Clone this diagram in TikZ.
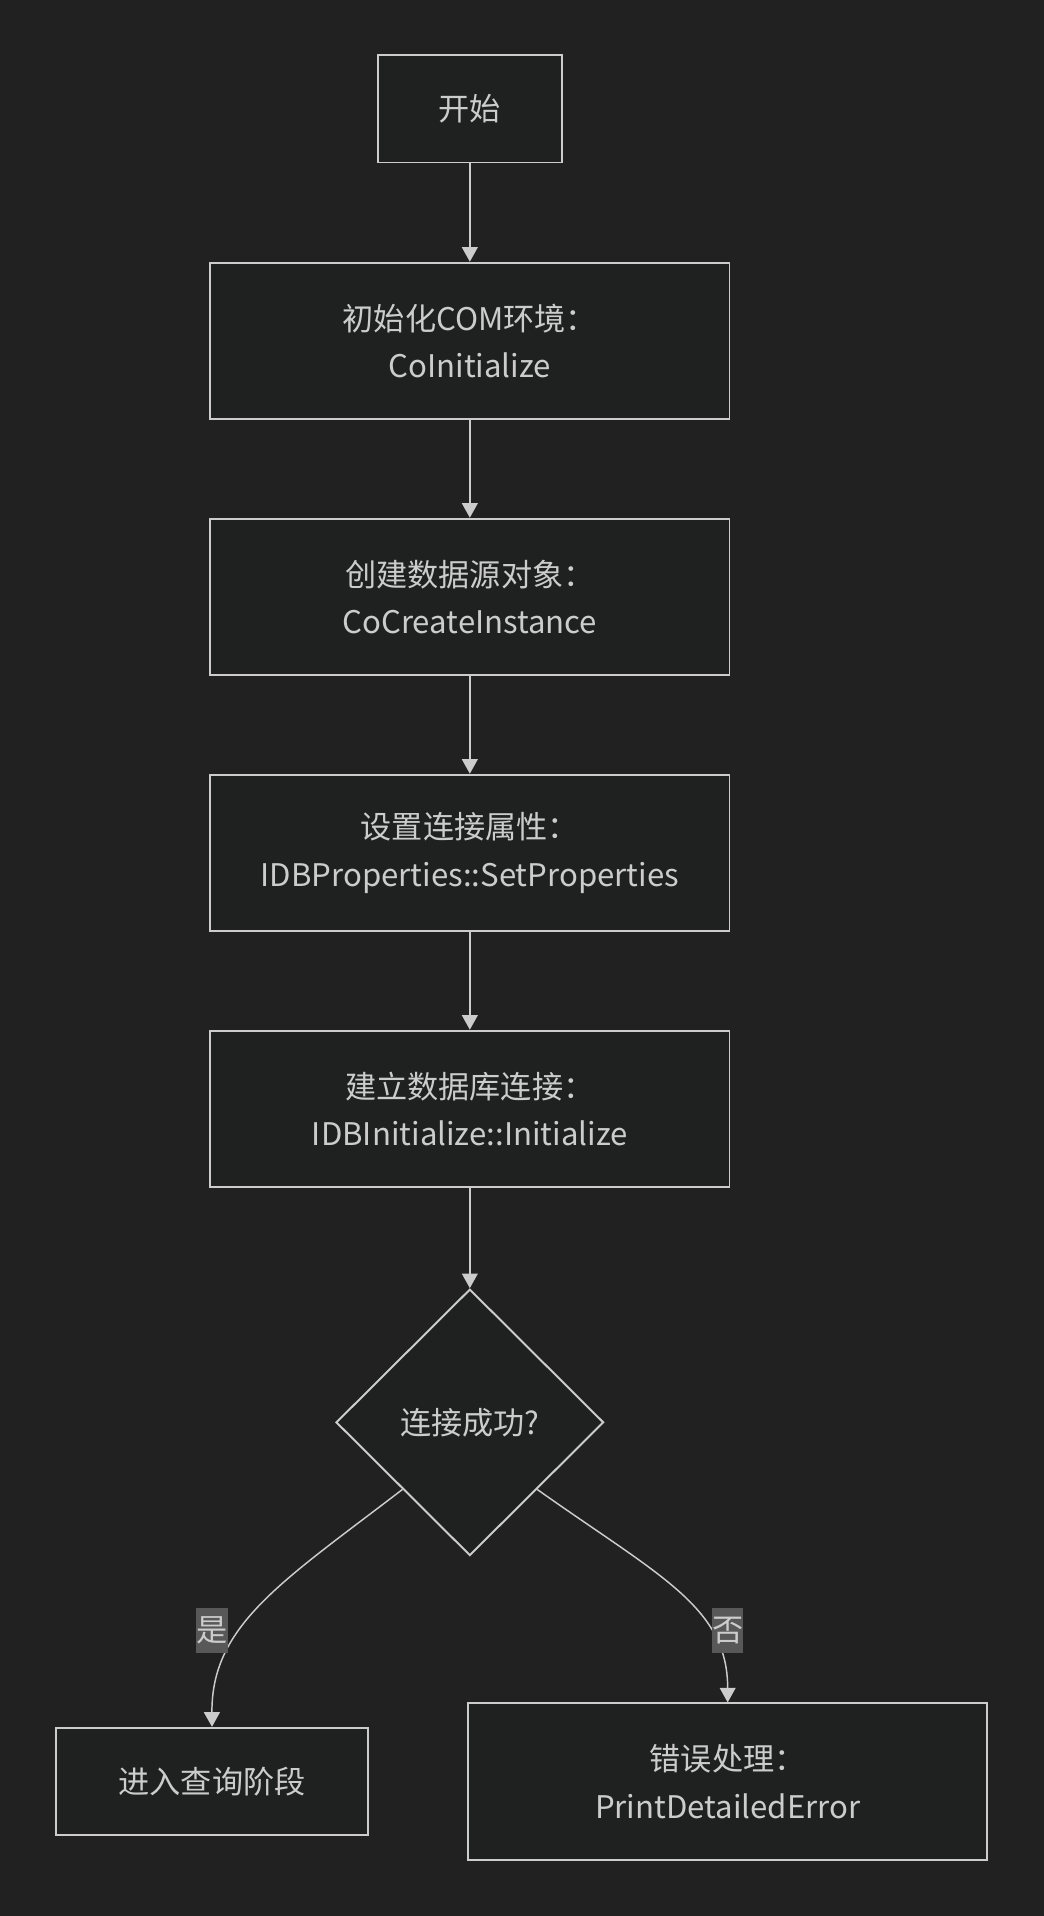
\documentclass[tikz,border=0pt]{standalone}
\usepackage{fontspec}
\setmainfont{Noto Sans CJK SC}
\usetikzlibrary{arrows.meta, shapes.geometric}
\definecolor{bg}{HTML}{212121}
\definecolor{boxfill}{HTML}{1F2020}
\definecolor{ink}{HTML}{CCCCCC}
\definecolor{tagfill}{HTML}{585858}

\begin{document}
\begin{tikzpicture}[
		x=1pt, y=-1pt,
		>={Triangle[length=12pt,width=13pt]},
		box/.style={draw=ink, fill=boxfill, line width=1.6pt, text=ink, align=center,
			minimum width=425pt, minimum height=128pt, inner sep=0pt,
			font=\fontsize{25.5}{39}\selectfont},
		decision/.style={box, diamond, minimum width=219pt, minimum height=218pt},
		link/.style={draw=ink, line width=1.2pt, ->},
		tag/.style={fill=tagfill, text=ink, inner sep=0pt, minimum width=25pt,
			minimum height=37pt, font=\fontsize{25.5}{28}\selectfont},
	]
	\fill[bg] (0,0) rectangle (854,1568);
	\node[box, minimum width=151pt, minimum height=88pt] (start) at (384.5,89) {开始};
	\node[box] (init) at (384.5,279) {初始化COM环境：\\CoInitialize};
	\node[box] (create) at (384.5,488.5) {创建数据源对象：\\CoCreateInstance};
	\node[box] (props) at (384.5,698) {设置连接属性：\\IDBProperties::SetProperties};
	\node[box] (connect) at (384.5,907.5) {建立数据库连接：\\IDBInitialize::Initialize};
	\node[decision] (check) at (384.5,1164) {连接成功?};
	\node[box, minimum width=255pt, minimum height=88pt] (query) at (173.5,1458) {进入查询阶段};
	\node[box] (error) at (595.5,1458) {错误处理：\\PrintDetailedError};
	\draw[link] (start) -- (init);
	\draw[link] (init) -- (create);
	\draw[link] (create) -- (props);
	\draw[link] (props) -- (connect);
	\draw[link] (connect) -- (check);
	\draw[link] (check.south west) .. controls (230,1295) and (173,1330) .. (query.north);
	\draw[link] (check.south east) .. controls (540,1290) and (595.5,1315) .. (error.north);
	\node[tag] (yes) at (173.5,1334.5) {是};
	\node[tag] (no) at (595.5,1334.5) {否};
\end{tikzpicture}
\end{document}
